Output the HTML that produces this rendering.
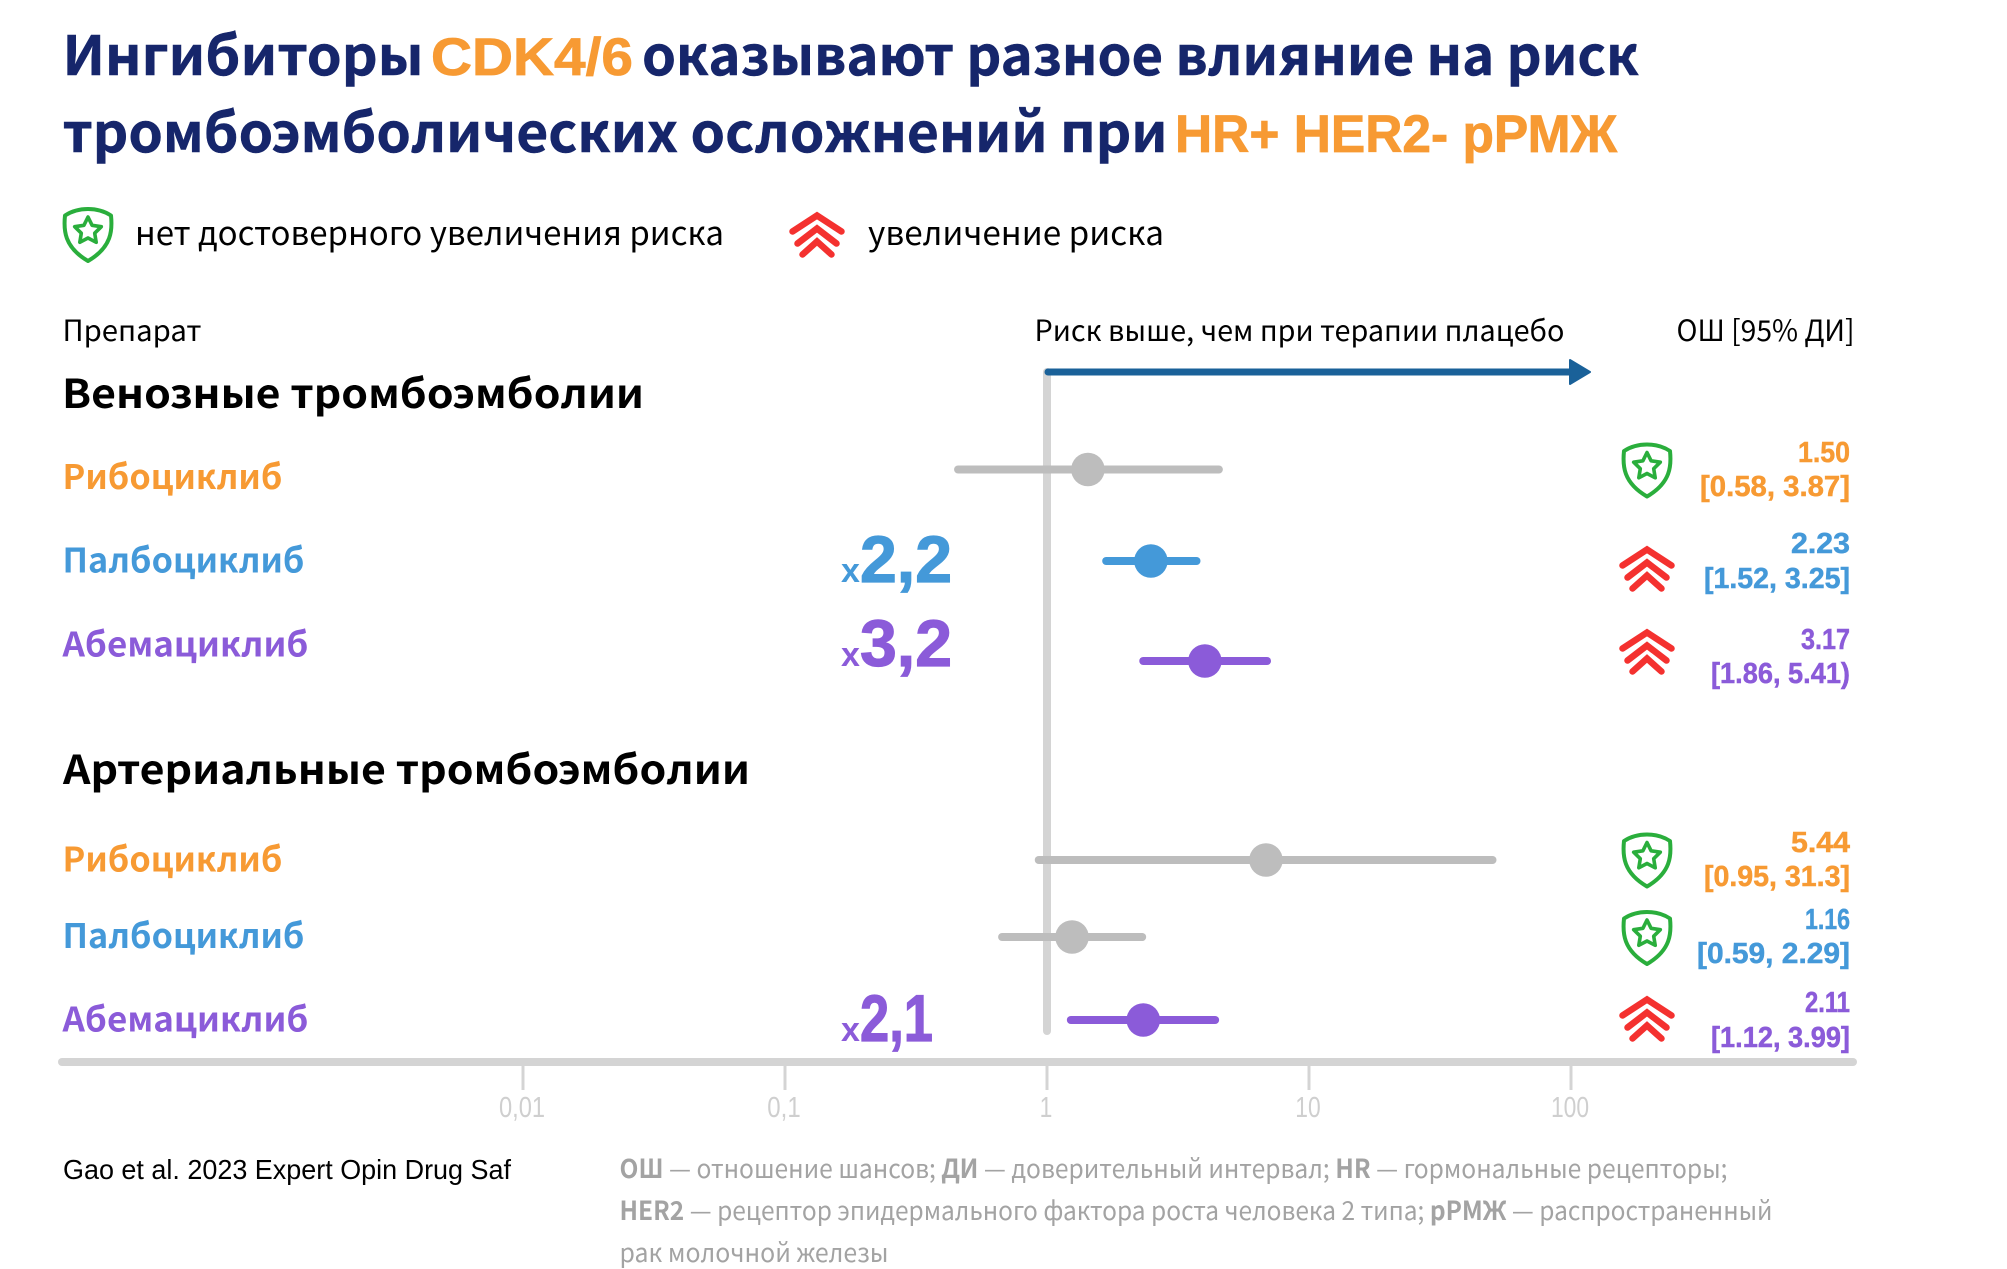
<!DOCTYPE html>
<html lang="ru">
<head>
<meta charset="utf-8">
<title>Ингибиторы CDK4/6</title>
<style>
html,body{margin:0;padding:0;background:#fff;width:2007px;height:1269px;overflow:hidden}
svg{display:block}
.cy{font-family:"Noto Sans CJK JP","Liberation Sans",sans-serif}
.la{font-family:"Liberation Sans","Noto Sans CJK JP",sans-serif}
.t{font-size:54px;font-weight:700;fill:#16266B;stroke:#16266B;stroke-width:.5px}
.to{font-size:53px;font-weight:700;fill:#F79A33;stroke:#F79A33;stroke-width:.8px;font-family:"Liberation Sans","Noto Sans CJK JP",sans-serif}
.lg{font-size:33px;fill:#000}
.hd{font-size:29px;fill:#000}
.sec{font-size:40px;font-weight:700;fill:#000}
.fn{font-size:26px;fill:#A3A3A3}
.fn tspan.b{font-weight:700}
</style>
</head>
<body>
<svg id="chart" xmlns="http://www.w3.org/2000/svg" width="2007" height="1269" viewBox="0 0 2007 1269">
  <defs>
    <g id="shield-icon">
      <path d="M0,-26 Q13,-26 23,-19.500 C24.500,-5 24,12 0,26 C-24,12 -24.500,-5 -23,-19.500 Q-13,-26 0,-26Z" fill="#fff" stroke="#2AAE3C" stroke-width="4" stroke-linejoin="round"/>
      <polygon transform="translate(0,-4)" points="0,-14 4.100,-5.700 13.300,-4.300 6.700,2.200 8.200,11.300 0,7 -8.200,11.300 -6.700,2.200 -13.300,-4.300 -4.100,-5.700" fill="none" stroke="#2AAE3C" stroke-width="3.600" stroke-linejoin="round"/>
    </g>
    <g id="chevrons-icon" fill="none" stroke="#F4312F" stroke-width="6.500" stroke-linecap="round" stroke-linejoin="miter">
      <path d="M-24.500,-4 L0,-20 L24.500,-4"/>
      <path d="M-19.500,8 L0,-7 L19.500,8"/>
      <path d="M-14.500,19 L0,6 L14.500,19"/>
    </g>
  </defs>

  <g>
    <text class="cy t" x="62.500" y="75" textLength="361" lengthAdjust="spacingAndGlyphs">Ингибиторы</text>
    <text class="to" x="431" y="75" textLength="202" lengthAdjust="spacingAndGlyphs">CDK4/6</text>
    <text class="cy t" x="642" y="75" textLength="997" lengthAdjust="spacingAndGlyphs">оказывают разное влияние на риск</text>
    <text class="cy t" x="62.500" y="152" textLength="1105" lengthAdjust="spacingAndGlyphs">тромбоэмболических осложнений при</text>
    <text class="to" x="1175" y="152" textLength="442" lengthAdjust="spacingAndGlyphs">HR+ HER2- рРМЖ</text>
  </g>

  <g>
    <use href="#shield-icon" x="88" y="235"/>
    <text class="cy lg" x="135" y="245" textLength="589" lengthAdjust="spacingAndGlyphs">нет достоверного увеличения риска</text>
    <use href="#chevrons-icon" x="817" y="235.500"/>
    <text class="cy lg" x="868" y="245" textLength="296" lengthAdjust="spacingAndGlyphs">увеличение риска</text>
  </g>

  <text class="cy hd" x="62.500" y="341" textLength="139" lengthAdjust="spacingAndGlyphs">Препарат</text>
  <text class="cy hd" x="1034.500" y="341" textLength="530" lengthAdjust="spacingAndGlyphs">Риск выше, чем при терапии плацебо</text>
  <text class="cy hd" x="1676.500" y="341" textLength="178" lengthAdjust="spacingAndGlyphs">ОШ [95% ДИ]</text>

  <text class="cy sec" x="62" y="408" textLength="582" lengthAdjust="spacingAndGlyphs">Венозные тромбоэмболии</text>
  <text class="cy sec" x="63" y="784" textLength="687" lengthAdjust="spacingAndGlyphs">Артериальные тромбоэмболии</text>

  <g id="axis-layer"></g>
  <g id="marks-layer"></g>

  <g>
    <line x1="1048" y1="372" x2="1572" y2="372" stroke="#1A6199" stroke-width="7" stroke-linecap="round"/>
    <polygon points="1570,360 1590,372 1570,384" fill="#1A6199" stroke="#1A6199" stroke-width="2" stroke-linejoin="round"/>
  </g>

  <text class="la" x="63" y="1179" font-size="28" fill="#000" textLength="448" lengthAdjust="spacingAndGlyphs">Gao et al. 2023 Expert Opin Drug Saf</text>
  <text class="cy fn" x="619.500" y="1178" textLength="1108" lengthAdjust="spacingAndGlyphs"><tspan class="b">ОШ</tspan> — отношение шансов; <tspan class="b">ДИ</tspan> — доверительный интервал; <tspan class="b">HR</tspan> — гормональные рецепторы;</text>
  <text class="cy fn" x="619.500" y="1220" textLength="1153" lengthAdjust="spacingAndGlyphs"><tspan class="b">HER2</tspan> — рецептор эпидермального фактора роста человека 2 типа; <tspan class="b">рРМЖ</tspan> — распространенный</text>
  <text class="cy fn" x="619.500" y="1262" textLength="269" lengthAdjust="spacingAndGlyphs">рак молочной железы</text>
</svg>

<script>
// Chart data
const drugs = ['Рибоциклиб', 'Палбоциклиб', 'Абемациклиб', 'Рибоциклиб', 'Палбоциклиб', 'Абемациклиб'];
const groups = ['venous', 'venous', 'venous', 'arterial', 'arterial', 'arterial'];
const plottedOr = [1.42, 2.47, 3.97, 6.79, 1.235, 2.31];
const plottedLow = [0.438, 1.61, 2.23, 0.89, 0.645, 1.18];
const plottedHigh = [4.65, 3.82, 7.1, 51.5, 2.37, 4.5];
const significant = [false, true, true, false, false, true];
const orLabels = ['1.50', '2.23', '3.17', '5.44', '1.16', '2.11'];
const ciLabels = ['[0.58, 3.87]', '[1.52, 3.25]', '[1.86, 5.41)', '[0.95, 31.3]', '[0.59, 2.29]', '[1.12, 3.99]'];
const multipliers = ['', '2,2', '3,2', '', '', '2,1'];
const tickValues = [0.01, 0.1, 1, 10, 100];
const tickLabels = ['0,01', '0,1', '1', '10', '100'];

const SVGNS = 'http://www.w3.org/2000/svg';

// Horizontal log axis
function xAxis(v) {
  return 1048 + 262 * Math.log10(v);
}

// Row layout (categorical band positions, not data)
function rowLayout(i) {
  const markY = [469.5, 561, 661, 860, 937, 1020];
  const labelY = [489, 572.5, 656.5, 871.5, 948, 1031.5];
  const iconY = [470.5, 569.5, 652.5, 860.5, 938, 1019.5];
  const orY = [462, 553, 649, 852, 929, 1012];
  const ciY = [496, 588, 683, 886, 963, 1047];
  const multY = [0, 582, 666, 0, 0, 1041];
  return { mark: markY[i], label: labelY[i], icon: iconY[i], or: orY[i], ci: ciY[i], mult: multY[i] };
}

function drugColor(name) {
  if (name === 'Рибоциклиб') return '#F79A33';
  if (name === 'Палбоциклиб') return '#4499D9';
  return '#8B5BD9';
}

function drugLabelWidth(name) {
  if (name === 'Рибоциклиб') return 220;
  if (name === 'Палбоциклиб') return 242;
  return 246;
}

// Width of a printed value in the tight grotesque of the reference
function valueWidth(s) {
  let w = 0;
  for (const ch of s) {
    if (ch === '1') w += 10.5;
    else if (ch === '7') w += 14.5;
    else if (ch === '.') w += 6.5;
    else if (ch === ',') w += 8;
    else if (ch === ' ') w += 7;
    else if (ch === '[' || ch === ']' || ch === ')') w += 10;
    else w += 17.5;
  }
  return w;
}

// Width of the big multiplier figures
function multiplierWidth(s) {
  let w = 0;
  for (const ch of s) {
    if (ch === '1') w += 18;
    else if (ch === ',') w += 18;
    else w += 37;
  }
  return w;
}

// Width of tick labels (condensed in the reference)
function tickWidth(s) {
  let w = 0;
  for (const ch of s) {
    if (ch === ',') w += 8;
    else w += 12.7;
  }
  return w;
}

function make(tag, parent) {
  const n = document.createElementNS(SVGNS, tag);
  parent.appendChild(n);
  return n;
}

const axisLayer = document.getElementById('axis-layer');
const marksLayer = document.getElementById('marks-layer');

// Reference line at OR = 1
const refLine = make('line', axisLayer);


refLine.setAttribute('x1', xAxis(1) - 1);
refLine.setAttribute('x2', xAxis(1) - 1);
refLine.setAttribute('y1', 372);
refLine.setAttribute('y2', 1031);
refLine.setAttribute('stroke', '#D4D4D4');
refLine.setAttribute('stroke-width', 8);
refLine.setAttribute('stroke-linecap', 'round');

// Axis baseline
const baseLine = make('line', axisLayer);


baseLine.setAttribute('x1', 62);
baseLine.setAttribute('x2', 1853);
baseLine.setAttribute('y1', 1062);
baseLine.setAttribute('y2', 1062);
baseLine.setAttribute('stroke', '#D4D4D4');
baseLine.setAttribute('stroke-width', 8);
baseLine.setAttribute('stroke-linecap', 'round');

// Ticks
tickValues.forEach(function (v, i) {
  const tick = make('line', axisLayer);
  
  
  tick.setAttribute('x1', xAxis(v) - 1);
  tick.setAttribute('x2', xAxis(v) - 1);
  tick.setAttribute('y1', 1064);
  tick.setAttribute('y2', 1090);
  tick.setAttribute('stroke', '#D4D4D4');
  tick.setAttribute('stroke-width', 3);

  const lbl = make('text', axisLayer);
  const lblW = tickWidth(tickLabels[i]);
  
  
  lbl.setAttribute('x', xAxis(v) - 2 - lblW / 2);
  lbl.setAttribute('y', 1117);
  lbl.setAttribute('font-size', 29);
  lbl.setAttribute('fill', '#CFCFCF');
  lbl.setAttribute('font-family', '"Liberation Sans",sans-serif');
  lbl.setAttribute('textLength', lblW);
  lbl.setAttribute('lengthAdjust', 'spacingAndGlyphs');
  lbl.textContent = tickLabels[i];
});

// Rows
drugs.forEach(function (name, i) {
  const row = rowLayout(i);
  const color = drugColor(name);
  const markColor = significant[i] ? color : '#BDBDBD';

  const g = make('g', marksLayer);
  
  

  const label = make('text', g);
  
  
  label.setAttribute('class', 'cy');
  label.setAttribute('x', 62.5);
  label.setAttribute('y', row.label);
  label.setAttribute('font-size', 34);
  label.setAttribute('font-weight', 700);
  label.setAttribute('fill', color);
  label.setAttribute('textLength', drugLabelWidth(name));
  label.setAttribute('lengthAdjust', 'spacingAndGlyphs');
  label.textContent = name;

  const ci = make('line', g);
  
  
  ci.setAttribute('x1', xAxis(plottedLow[i]) + 4);
  ci.setAttribute('x2', xAxis(plottedHigh[i]) - 4);
  ci.setAttribute('y1', row.mark);
  ci.setAttribute('y2', row.mark);
  ci.setAttribute('stroke', markColor);
  ci.setAttribute('stroke-width', 8);
  ci.setAttribute('stroke-linecap', 'round');

  const dot = make('circle', g);
  
  
  dot.setAttribute('cx', xAxis(plottedOr[i]));
  dot.setAttribute('cy', row.mark);
  dot.setAttribute('r', 16.8);
  dot.setAttribute('fill', markColor);

  const icon = make('use', g);
  
  
  icon.setAttribute('href', significant[i] ? '#chevrons-icon' : '#shield-icon');
  icon.setAttribute('x', 1647);
  icon.setAttribute('y', row.icon);

  const orText = make('text', g);
  const orW = valueWidth(orLabels[i]);
  
  
  orText.setAttribute('class', 'la');
  orText.setAttribute('x', 1850 - orW);
  orText.setAttribute('y', row.or);
  orText.setAttribute('font-size', 29);
  orText.setAttribute('font-weight', 700);
  orText.setAttribute('fill', color);
  orText.setAttribute('stroke', color);
  orText.setAttribute('stroke-width', 0.5);
  orText.setAttribute('textLength', orW);
  orText.setAttribute('lengthAdjust', 'spacingAndGlyphs');
  orText.textContent = orLabels[i];

  const ciText = make('text', g);
  const ciW = valueWidth(ciLabels[i]);
  
  
  ciText.setAttribute('class', 'la');
  ciText.setAttribute('x', 1850 - ciW);
  ciText.setAttribute('y', row.ci);
  ciText.setAttribute('font-size', 29);
  ciText.setAttribute('font-weight', 700);
  ciText.setAttribute('fill', color);
  ciText.setAttribute('stroke', color);
  ciText.setAttribute('stroke-width', 0.5);
  ciText.setAttribute('textLength', ciW);
  ciText.setAttribute('lengthAdjust', 'spacingAndGlyphs');
  ciText.textContent = ciLabels[i];

  if (multipliers[i]) {
    const prefix = make('text', g);
    
    
    prefix.setAttribute('class', 'la');
    prefix.setAttribute('x', 841);
    prefix.setAttribute('y', row.mult);
    prefix.setAttribute('font-size', 34);
    prefix.setAttribute('font-weight', 700);
    prefix.setAttribute('fill', color);
    prefix.textContent = 'x';

    const amount = make('text', g);
    
    
    amount.setAttribute('class', 'la');
    amount.setAttribute('x', 860);
    amount.setAttribute('y', row.mult);
    amount.setAttribute('font-size', 66);
    amount.setAttribute('font-weight', 700);
    amount.setAttribute('fill', color);
    amount.setAttribute('stroke', color);
    amount.setAttribute('stroke-width', 1.2);
    amount.setAttribute('textLength', multiplierWidth(multipliers[i]));
    amount.setAttribute('lengthAdjust', 'spacingAndGlyphs');
    amount.textContent = multipliers[i];
  }
});
</script>
</body>
</html>
